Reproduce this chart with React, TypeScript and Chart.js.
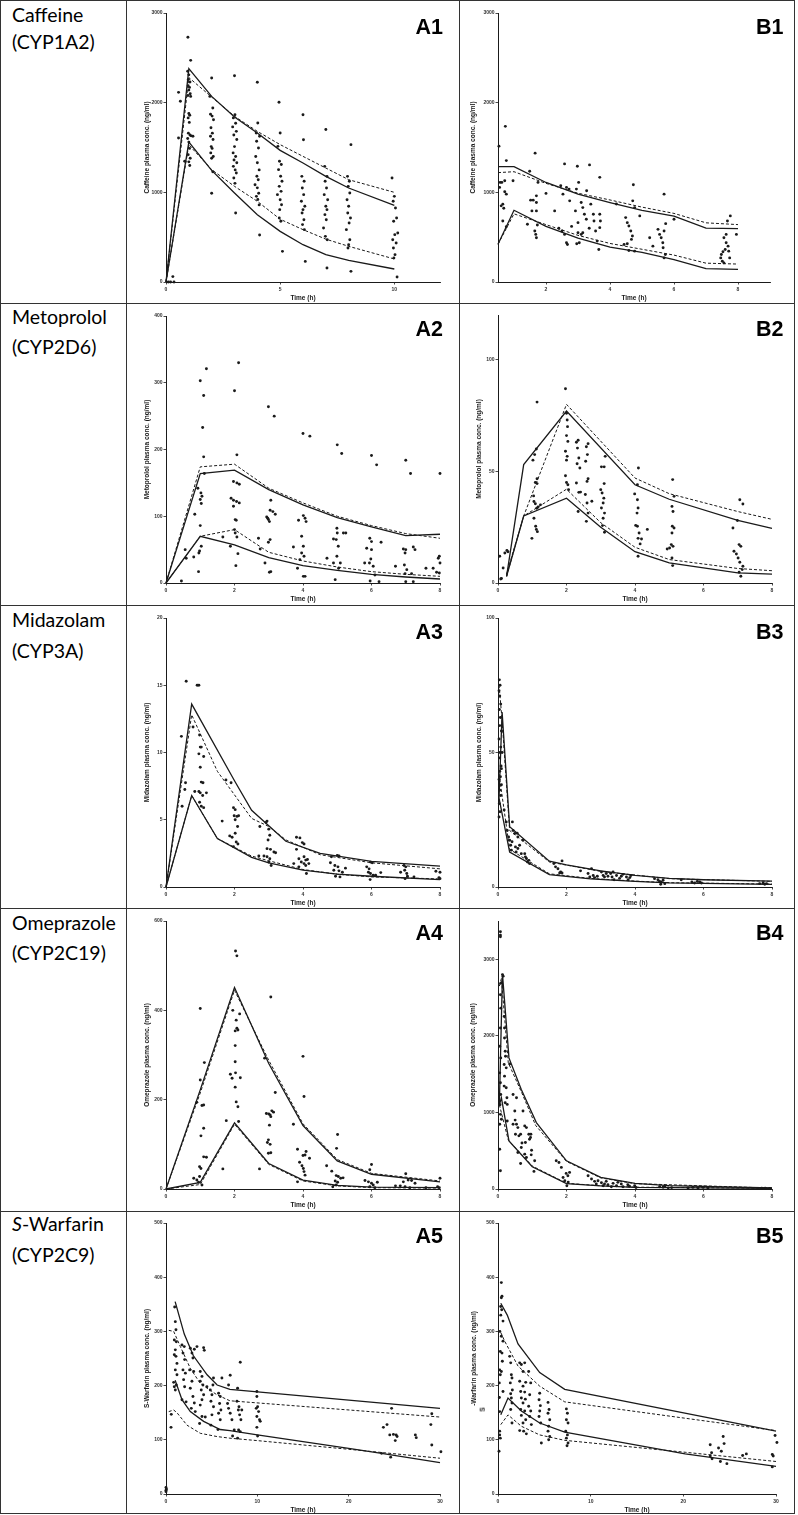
import React, { useEffect, useRef } from "react";
import { Chart, registerables } from "chart.js";
Chart.register(...registerables);

type Pt = [number, number];

// ---------------- Row / panel texts ----------------
const drugNames = ["Caffeine", "Metoprolol", "Midazolam", "Omeprazole", "S-Warfarin"];
const enzymeNames = ["(CYP1A2)", "(CYP2D6)", "(CYP3A)", "(CYP2C19)", "(CYP2C9)"];
const panelLabelsA = ["A1", "A2", "A3", "A4", "A5"];
const panelLabelsB = ["B1", "B2", "B3", "B4", "B5"];
const yTitles = [
  "Caffeine plasma conc. (ng/ml)",
  "Metoprolol plasma conc. (ng/ml)",
  "Midazolam plasma conc. (ng/ml)",
  "Omeprazole plasma conc. (ng/ml)",
  "S-Warfarin plasma conc. (ng/ml)",
];
const b5YTitle = "-Warfarin plasma conc. (ng/ml)";
const xTitle = "Time (h)";

// ---------------- A1 Caffeine ----------------
const a1XTicks = [0, 5, 10];
const a1YTicks = [0, 1000, 2000, 3000];
const a1Points: Pt[] = [
  [0.1, 0], [0.2, 0], [0.3, 60], [0.35, 0],
  [0.55, 2115], [0.63, 2015], [0.55, 1606], [0.82, 1346],
  [0.96, 2729], [1.08, 2472], [0.95, 2350], [1.0, 2310], [0.98, 2260], [1.05, 2230], [0.97, 2190], [1.03, 2170], [1.0, 2140], [1.06, 2100], [0.96, 2080], [1.08, 2070], [1.0, 1880], [1.04, 1860], [0.97, 1830], [1.02, 1780], [0.98, 1660], [1.05, 1640], [1.1, 1630], [1.18, 1625], [0.95, 1600], [1.0, 1560], [1.03, 1490], [0.97, 1420], [1.06, 1380], [1.0, 1340], [1.04, 1300],
  [2.0, 2275], [1.92, 2070], [2.05, 1940], [1.95, 1870], [2.02, 1850], [2.08, 1810], [1.97, 1720], [2.03, 1660], [1.95, 1625], [2.06, 1590], [1.98, 1510], [2.02, 1490], [1.96, 1440], [2.07, 1400], [2.0, 1380], [2.05, 1230], [2.0, 990],
  [3.0, 2300], [3.02, 1866], [2.95, 1830], [3.05, 1770], [2.92, 1730], [3.08, 1680], [2.97, 1640], [3.1, 1590], [3.0, 1510], [2.94, 1440], [3.05, 1400], [2.98, 1360], [3.1, 1330], [2.95, 1290], [3.03, 1250], [3.08, 1215], [2.97, 1160], [3.02, 1100], [3.05, 770],
  [4.0, 2227], [4.02, 1773], [3.95, 1662], [4.1, 1625], [3.97, 1570], [4.05, 1495], [3.93, 1400], [4.0, 1330], [4.08, 1250], [3.98, 1180], [4.04, 1140], [3.9, 1085], [4.0, 1050], [4.06, 990], [3.96, 955], [4.02, 920], [4.08, 860], [4.1, 524],
  [4.95, 2004], [5.0, 1662], [4.9, 1513], [4.97, 1346], [5.05, 1310], [4.93, 1253], [5.02, 1180], [5.08, 1123], [4.96, 1067], [5.04, 1011], [4.88, 974], [5.0, 918], [5.06, 862], [4.98, 807], [4.96, 714], [5.03, 677], [5.1, 342],
  [6.0, 1866], [6.02, 1587], [5.95, 1178], [6.05, 1123], [5.97, 1048], [6.03, 974], [5.93, 900], [6.08, 844], [6.0, 807], [5.96, 770], [6.04, 695], [5.98, 640], [6.06, 584], [6.1, 230],
  [7.0, 1700], [6.95, 1290], [7.05, 1178], [6.97, 1123], [7.03, 1048], [6.93, 974], [7.08, 918], [7.0, 844], [7.05, 807], [6.96, 751], [7.02, 695], [6.9, 602], [6.98, 509], [7.06, 472], [7.05, 156],
  [8.1, 1532], [7.95, 1178], [8.03, 1123], [7.98, 1067], [8.05, 993], [7.93, 918], [8.0, 844], [7.96, 770], [8.08, 714], [8.02, 658], [7.9, 584], [8.05, 472], [8.0, 416], [7.97, 379], [8.1, 119],
  [9.9, 1160], [10.0, 955], [9.95, 900], [10.05, 825], [10.1, 714], [9.97, 677], [10.15, 546], [10.02, 528], [9.93, 472], [10.08, 435], [9.96, 379], [10.03, 305], [9.98, 268], [10.12, 56],
];
const a1UpperSolid: Pt[] = [[0, 0], [1, 2380], [2, 2070], [3, 1840], [4, 1662], [5, 1468], [6, 1327], [7, 1178], [8, 1048], [10, 855]];
const a1UpperDashed: Pt[] = [[0, 0], [1, 2280], [2, 2063], [3, 1848], [4, 1680], [5, 1532], [6, 1401], [7, 1271], [8, 1141], [10, 1000]];
const a1LowerSolid: Pt[] = [[0, 0], [1, 1560], [2, 1245], [3, 993], [4, 751], [5, 565], [6, 416], [7, 305], [8, 242], [10, 145]];
const a1LowerDashed: Pt[] = [[0, 0], [1, 1530], [2, 1253], [3, 1067], [4, 900], [5, 700], [6, 584], [7, 478], [8, 398], [10, 257]];

// ---------------- B1 Caffeine ----------------
const b1XTicks = [2, 4, 6, 8];
const b1YTicks = [0, 1000, 2000, 3000];
const b1Points: Pt[] = [
  [0.53, 1515], [0.73, 1736], [0.76, 1354], [0.55, 1055], [0.57, 1111], [0.62, 1111], [0.71, 1130], [0.71, 1006], [0.76, 980], [0.65, 868], [0.6, 849], [0.68, 823], [0.65, 680], [0.76, 617], [0.97, 1130],
  [1.49, 1235], [1.66, 1437], [1.75, 1111], [1.52, 913], [1.6, 913], [1.56, 793], [1.7, 961], [1.7, 887], [1.7, 793], [1.65, 569], [1.68, 531], [1.7, 494], [1.42, 644], [1.73, 636], [2.0, 988],
  [2.58, 1317], [2.98, 1291], [3.36, 1306], [3.68, 1167], [2.27, 793], [2.46, 1074], [2.53, 980], [2.64, 1055], [2.72, 1036], [2.74, 905], [2.5, 569], [2.58, 531], [2.67, 419], [2.64, 438], [2.95, 1036], [3.02, 1111], [3.1, 887], [3.15, 830], [3.2, 756], [3.26, 700], [2.92, 793], [3.0, 662], [3.0, 550], [3.04, 438], [2.96, 427], [3.1, 531], [3.15, 550], [3.4, 868], [3.48, 756], [3.5, 681], [3.55, 569], [3.6, 456], [3.65, 363], [3.68, 756], [3.7, 681], [3.68, 606], [3.27, 1017], [2.8, 620], [2.4, 600], [3.35, 600],
  [4.73, 1085], [4.77, 830], [4.49, 718], [4.54, 662], [4.59, 625], [4.65, 569], [4.7, 513], [4.67, 475], [4.59, 352], [4.54, 427], [4.44, 419], [4.71, 905], [4.77, 344], [4.2, 870],
  [5.69, 980], [5.24, 494], [5.5, 587], [5.55, 531], [5.6, 494], [5.65, 438], [5.69, 569], [5.74, 651], [5.66, 382], [5.69, 269], [5.73, 307], [5.34, 400], [4.93, 737], [6.0, 700],
  [7.67, 681], [7.76, 737], [7.56, 494], [7.63, 438], [7.69, 400], [7.71, 344], [7.6, 363], [7.53, 337], [7.48, 307], [7.46, 269], [7.51, 232], [7.56, 213], [7.74, 269], [7.95, 531], [7.63, 531],
];
const b1UpperSolid: Pt[] = [[0.5, 1287], [1, 1287], [2, 1110], [3, 980], [4, 886], [5, 800], [6, 735], [7, 600], [8, 595]];
const b1UpperDashed: Pt[] = [[0.5, 1220], [1, 1230], [2, 1100], [3, 990], [4, 915], [5, 835], [6, 765], [7, 660], [8, 640]];
const b1LowerSolid: Pt[] = [[0.5, 420], [1, 800], [2, 620], [3, 490], [4, 390], [5, 330], [6, 250], [7, 150], [8, 140]];
const b1LowerDashed: Pt[] = [[0.5, 420], [1, 760], [2, 640], [3, 520], [4, 430], [5, 365], [6, 300], [7, 210], [8, 200]];

// ---------------- A2 Metoprolol ----------------
const a2XTicks = [0, 2, 4, 6, 8];
const a2YTicks = [0, 100, 200, 300, 400];
const a2Points: Pt[] = [
  [0.45, 3], [0.56, 50], [0.59, 37], [0.81, 39], [0.84, 103],
  [1.0, 303], [1.18, 321], [1.1, 281], [1.07, 233], [1.1, 189], [1.12, 164], [0.93, 142], [1.02, 135], [1.05, 130], [1.0, 125], [1.03, 119], [1.0, 86], [1.03, 55], [0.98, 48], [0.96, 45], [0.95, 17],
  [2.12, 330], [2.0, 288], [2.07, 192], [1.97, 152], [2.07, 150], [2.14, 148], [1.9, 127], [1.97, 124], [2.06, 122], [2.14, 120], [1.97, 115], [2.02, 95], [2.05, 94], [2.0, 80], [2.02, 75], [2.07, 69], [2.1, 44], [2.04, 26], [1.88, 55], [1.66, 69],
  [2.99, 264], [3.16, 250], [3.06, 124], [2.94, 99], [2.99, 95], [3.02, 92], [2.97, 97], [3.04, 109], [3.12, 107], [3.19, 103], [3.04, 65], [2.99, 61], [3.06, 17], [3.02, 16], [2.89, 30], [2.7, 67], [2.75, 51],
  [4.0, 224], [4.2, 220], [3.87, 94], [4.01, 101], [4.06, 97], [4.09, 92], [3.96, 70], [4.01, 55], [3.96, 45], [4.03, 40], [3.91, 35], [4.01, 10], [4.06, 10], [3.72, 54], [3.84, 22],
  [5.0, 207], [5.13, 194], [4.89, 66], [4.99, 82], [5.0, 75], [4.97, 65], [5.03, 55], [4.99, 40], [5.09, 30], [5.04, 22], [5.18, 75], [5.25, 75], [4.94, 5], [4.7, 37], [4.89, 30],
  [6.0, 191], [6.15, 177], [5.95, 67], [6.0, 62], [5.86, 52], [6.0, 50], [5.98, 36], [6.05, 25], [5.94, 30], [6.1, 12], [5.96, 3], [6.28, 61], [6.22, 2], [5.8, 30],
  [7.0, 184], [7.14, 164], [6.93, 51], [7.0, 50], [6.98, 45], [6.96, 27], [7.03, 20], [6.98, 14], [7.22, 54], [7.27, 50], [7.0, 2], [7.22, 2], [7.17, 14], [6.7, 25],
  [8.0, 164], [7.98, 40], [7.95, 37], [8.0, 30], [7.98, 15], [7.9, 16], [7.8, 22], [7.59, 22],
];
const a2UpperSolid: Pt[] = [[0, 0], [1, 164], [2, 169], [3, 140], [4, 117], [5, 98], [6, 84], [7, 71], [8, 73]];
const a2UpperDashed: Pt[] = [[0, 0], [1, 174], [2, 178], [3, 142], [4, 120], [5, 100], [6, 86], [7, 74], [8, 67]];
const a2LowerSolid: Pt[] = [[0, 0], [1, 70], [2, 57], [3, 38], [4, 26], [5, 19], [6, 13], [7, 9], [8, 6]];
const a2LowerDashed: Pt[] = [[0, 0], [1, 70], [2, 80], [3, 46], [4, 33], [5, 24], [6, 17], [7, 13], [8, 10]];

// ---------------- B2 Metoprolol ----------------
const b2XTicks = [0, 2, 4, 6, 8];
const b2YTicks = [0, 50, 100];
const b2Points: Pt[] = [
  [0.05, 12], [0.1, 2], [0.15, 6.7], [0.2, 13.4], [0.26, 14.6], [0.29, 14], [0.08, 1.8],
  [1.14, 81], [1.02, 55], [1.07, 57.5], [1.12, 60], [1.09, 45], [1.14, 44.5], [1.04, 39], [1.05, 36.5], [1.09, 35.5], [1.13, 33.5], [1.17, 34], [1.1, 25.4], [1.12, 24], [1.15, 23], [0.99, 20], [1.05, 29], [1.24, 35], [1.14, 46.7],
  [1.97, 87], [2.0, 76], [2.02, 73], [2.03, 70], [2.0, 66], [2.04, 63.4], [1.97, 59], [2.02, 56.7], [2.0, 55], [1.97, 48], [2.0, 45], [2.04, 44], [2.06, 41.8],
  [2.29, 63], [2.34, 63.9], [2.32, 60.4], [2.36, 56], [2.31, 53.4], [2.39, 51.5], [2.29, 44.8], [2.36, 40.6], [2.41, 40.7], [2.34, 32], [2.58, 61], [2.61, 57.5], [2.56, 54.5], [2.63, 46.7], [2.6, 45.5], [2.55, 39.6], [2.6, 35.8], [2.63, 31.3], [2.58, 27.6], [2.63, 62.4], [2.74, 36.6],
  [3.02, 52], [3.1, 52], [3.0, 41.8], [3.04, 40.3], [3.09, 38], [3.07, 35.8], [3.02, 33.6], [3.11, 31.3], [3.13, 56.7], [3.1, 44.5], [3.07, 29], [3.11, 22.7], [3.05, 25.7],
  [4.1, 51.5], [4.07, 44], [3.99, 39.9], [4.07, 37.3], [4.09, 33.6], [4.06, 31.3], [4.02, 25.8], [4.07, 25.4], [4.12, 22.4], [4.09, 20], [4.19, 19.7], [4.15, 17.5], [4.09, 12], [4.36, 24],
  [5.1, 46.3], [5.14, 38.8], [5.08, 34.3], [5.11, 32], [5.09, 25.4], [5.14, 24.6], [5.08, 22.4], [5.06, 17.2], [5.11, 16.4], [5.01, 15.7], [4.94, 15.2], [5.08, 11.2], [5.1, 7.8],
  [6.86, 24.6], [7.06, 37.3], [7.15, 35.4], [6.99, 28], [7.04, 17.2], [7.09, 16.4], [6.89, 14.2], [6.96, 13], [7.01, 11.2], [7.06, 9.3], [7.04, 4.8], [7.09, 3], [7.13, 6], [7.15, 7.5],
];
const b2UpperSolid: Pt[] = [[0.25, 3], [0.75, 53], [2, 77], [4, 44], [5, 37.5], [7, 28], [8, 24.5]];
const b2UpperDashed: Pt[] = [[0.25, 4], [0.75, 30], [2, 80], [4, 47], [5, 40], [7, 32], [8, 28.5]];
const b2LowerSolid: Pt[] = [[0.25, 3], [0.75, 30], [2, 38], [3, 25], [4, 14], [5, 9], [7, 4.5], [8, 4]];
const b2LowerDashed: Pt[] = [[0.25, 3], [0.75, 30], [2, 42], [3, 27], [4, 16], [5, 10.5], [7, 6.5], [8, 5.5]];

// ---------------- A3 Midazolam ----------------
const a3XTicks = [0, 2, 4, 6, 8];
const a3YTicks = [0, 5, 10, 15, 20];
const a3Points: Pt[] = [
  [0.59, 15.3], [0.45, 11.2], [0.57, 7.75], [0.55, 7.25], [0.47, 6.0], [0.79, 11.9], [0.84, 7.1],
  [0.91, 15.0], [0.96, 15.0], [0.98, 11.3], [1.0, 10.4], [1.03, 10.4], [0.96, 9.9], [1.0, 8.9], [1.1, 9.7], [1.03, 7.8], [1.08, 7.75], [0.96, 7.1], [1.0, 7.0], [1.07, 6.8], [1.18, 7.0], [0.98, 6.3], [1.03, 6.0], [1.1, 5.9],
  [1.64, 4.9], [1.75, 7.95], [1.9, 7.75], [1.86, 3.8], [1.93, 3.7], [1.97, 5.9], [2.02, 5.75], [1.99, 5.3], [2.07, 5.25], [2.12, 5.3], [2.02, 5.0], [2.09, 4.5], [2.02, 4.0], [2.05, 3.35], [2.1, 3.2], [1.97, 3.0],
  [2.74, 4.5], [2.71, 2.3], [2.86, 2.3],
  [2.95, 4.9], [2.92, 4.8], [3.0, 4.3], [3.03, 3.85], [2.98, 3.5], [2.95, 2.85], [3.05, 2.8], [2.95, 2.25], [3.03, 2.1], [3.0, 1.86], [3.07, 1.6], [3.15, 2.6], [3.2, 2.55],
  [3.81, 3.7], [3.91, 3.65], [3.98, 3.3], [4.03, 3.2], [3.81, 2.8], [3.88, 2.1], [4.03, 2.25], [3.95, 1.86], [4.03, 1.74], [4.08, 2.0], [4.13, 2.05], [4.08, 1.6], [3.73, 1.74], [4.17, 1.74], [4.1, 1.0], [3.88, 1.5],
  [4.83, 2.25], [5.0, 2.35], [5.05, 2.3], [4.8, 1.8], [4.93, 1.6], [5.02, 1.5], [4.9, 1.25], [5.05, 1.2], [5.15, 1.1], [5.24, 1.4], [4.95, 0.8], [5.08, 0.75],
  [5.86, 1.5], [5.93, 1.35], [5.97, 1.85], [6.02, 1.8], [5.91, 1.1], [5.97, 1.0], [6.05, 0.87], [5.96, 0.55], [6.12, 0.87], [6.27, 1.07],
  [6.85, 1.1], [6.95, 1.6], [7.0, 1.5], [6.97, 1.25], [7.03, 1.0], [7.05, 0.8], [6.98, 0.62], [7.24, 0.75],
  [7.88, 1.17], [8.0, 1.1], [7.97, 0.7], [8.0, 0.62],
];
const a3UpperSolid: Pt[] = [[0, 0], [0.75, 13.6], [2, 7.9], [2.5, 5.7], [3.5, 3.4], [4.5, 2.5], [6, 1.9], [8, 1.55]];
const a3UpperDashed: Pt[] = [[0, 0], [0.75, 12.8], [1.5, 8.6], [2.5, 5.1], [3, 4.5], [3.5, 3.5], [4.5, 2.4], [6, 1.8], [8, 1.35]];
const a3LowerSolid: Pt[] = [[0, 0], [0.75, 6.8], [1.5, 3.6], [2.5, 2.2], [3, 1.8], [4, 1.25], [5, 0.95], [6, 0.8], [8, 0.55]];
const a3LowerDashed: Pt[] = [[0, 0], [0.75, 6.8], [1.5, 3.6], [2.5, 2.3], [3, 1.95], [4, 1.3], [5, 0.95], [6, 0.75], [8, 0.6]];

// ---------------- B3 Midazolam ----------------
const b3XTicks = [0, 2, 4, 6, 8];
const b3YTicks = [0, 50, 100];
const b3Points: Pt[] = [
  [0.04, 77], [0.06, 75], [0.03, 73], [0.05, 71], [0.08, 68], [0.04, 66], [0.07, 63], [0.05, 60], [0.1, 58], [0.03, 55], [0.08, 52], [0.06, 50], [0.04, 48], [0.09, 45], [0.05, 43], [0.07, 41], [0.03, 40], [0.1, 38], [0.05, 36], [0.08, 34], [0.04, 31], [0.06, 28], [0.03, 26], [0.12, 50], [0.1, 44],
  [0.18, 28.6], [0.24, 24.2], [0.27, 21], [0.31, 18.6], [0.34, 17.4], [0.37, 15.5], [0.39, 13.7], [0.42, 24.2], [0.44, 21], [0.41, 16.8], [0.49, 19.9], [0.51, 14.9], [0.53, 13], [0.58, 14.3], [0.58, 18.6], [0.63, 15.5], [0.68, 12.4], [0.73, 17.4], [0.78, 12.4], [0.8, 11.2], [0.83, 10.6], [0.86, 9.3], [0.9, 9.9], [0.92, 8.7], [0.56, 20],
  [1.63, 8.7], [1.68, 7.5], [1.75, 6.8], [1.83, 5.6], [1.87, 9.7], [1.8, 5.2], [1.87, 5.2],
  [2.41, 6.0], [2.73, 6.8], [2.63, 5.0], [2.68, 3.7], [2.78, 4.3], [2.82, 3.5], [3.02, 5.6], [3.07, 4.3], [3.11, 3.7], [3.16, 5.0], [3.21, 4.0], [3.29, 5.0], [3.33, 3.7], [3.39, 2.7], [3.46, 4.3], [3.6, 4.0], [3.65, 4.7], [3.75, 3.7], [3.8, 2.7], [3.85, 3.5], [3.88, 4.3], [3.36, 5.6], [2.9, 4.0], [3.55, 3.2],
  [4.57, 3.1], [4.67, 2.7], [4.72, 2.1], [4.77, 1.74], [4.82, 2.5], [4.87, 1.24], [4.75, 1.0], [5.35, 2.7],
  [5.66, 1.86], [5.74, 1.5], [5.82, 2.1], [5.89, 1.86], [5.94, 1.5],
  [7.64, 1.24], [7.74, 1.5], [7.79, 1.0], [7.84, 1.24],
];
const b3UpperSolid: Pt[] = [[0.03, 33], [0.12, 65], [0.34, 22.4], [1.5, 9.6], [2, 8.2], [3, 6.0], [4, 4.3], [5, 3.2], [6, 2.7], [8, 2.2]];
const b3UpperDashed: Pt[] = [[0.03, 75], [0.12, 62], [0.34, 21], [1.5, 9.3], [3, 5.8], [5, 3.1], [8, 2.1]];
const b3LowerSolid: Pt[] = [[0.03, 33], [0.34, 13], [1.5, 4.6], [2.7, 3.0], [4, 2.1], [5, 1.5], [8, 1.0]];
const b3LowerDashed: Pt[] = [[0.03, 42], [0.34, 14], [1.5, 4.9], [2.7, 3.2], [4, 2.2], [5, 1.6], [8, 1.1]];

// ---------------- A4 Omeprazole ----------------
const a4XTicks = [0, 2, 4, 6, 8];
const a4YTicks = [0, 200, 400, 600];
const a4Points: Pt[] = [
  [1.0, 404], [1.0, 244], [0.9, 194], [1.05, 187], [1.1, 188], [1.02, 119], [1.1, 136], [0.98, 50], [1.02, 46], [1.1, 72], [1.18, 71], [0.81, 24], [0.9, 20], [0.95, 15], [0.98, 28], [1.12, 283], [1.05, 9],
  [2.03, 533], [2.07, 522], [1.95, 400], [2.05, 378], [2.07, 360], [2.02, 354], [2.1, 356], [2.15, 392], [2.02, 321], [2.02, 285], [1.88, 257], [1.93, 248], [2.03, 260], [2.17, 249], [2.02, 228], [2.05, 195], [2.1, 184], [2.12, 151], [1.66, 45], [1.76, 153],
  [3.06, 430], [3.19, 216], [2.88, 293], [2.93, 169], [3.0, 168], [3.04, 166], [3.09, 175], [3.14, 172], [3.06, 162], [3.02, 143], [2.99, 110], [2.96, 104], [3.04, 100], [2.99, 80], [3.06, 81], [2.73, 45],
  [4.0, 297], [4.03, 207], [3.72, 145], [3.84, 89], [3.9, 60], [4.0, 75], [4.06, 76], [4.09, 84], [4.19, 69], [3.97, 52], [4.01, 46], [4.03, 39], [4.06, 31], [3.84, 16],
  [5.01, 122], [4.98, 91], [4.69, 52], [4.84, 40], [4.97, 30], [5.03, 28], [4.94, 18], [5.01, 15], [5.1, 24], [5.17, 25], [4.97, 9], [4.87, 5],
  [6.0, 55], [5.95, 43], [5.81, 19], [5.91, 16], [6.0, 13], [6.05, 9], [6.17, 15], [5.95, 5], [6.1, 3],
  [7.0, 34], [6.93, 16], [7.07, 20], [7.17, 19], [7.27, 13], [6.84, 7], [6.98, 5], [7.12, 3], [7.59, 3], [6.7, 7],
  [8.0, 24], [7.98, 3], [7.93, 5],
];
const a4UpperSolid: Pt[] = [[0, 0], [1, 222], [2, 451], [3, 281], [4, 142], [5, 63], [6, 33], [8, 16]];
const a4UpperDashed: Pt[] = [[0, 0], [1, 215], [2, 445], [3, 288], [4, 146], [5, 66], [6, 35], [8, 18]];
const a4LowerSolid: Pt[] = [[0, 0], [1, 15], [2, 148], [3, 57], [4, 20], [5, 8], [6, 4], [8, 3]];
const a4LowerDashed: Pt[] = [[0, 0], [1, 10], [2, 145], [3, 55], [4, 18], [5, 7], [6, 3], [8, 2]];

// ---------------- B4 Omeprazole ----------------
const b4XTicks = [0, 2, 4, 6, 8];
const b4YTicks = [0, 1000, 2000, 3000];
const b4Points: Pt[] = [
  [0.07, 3359], [0.07, 3316], [0.07, 3294], [0.08, 2687], [0.07, 2536], [0.08, 2362], [0.07, 2102], [0.05, 1864], [0.08, 1712], [0.05, 1517], [0.07, 1387], [0.08, 1235], [0.07, 975], [0.05, 845], [0.05, 520], [0.07, 238], [0.1, 910], [0.06, 1100],
  [0.18, 2254], [0.19, 2102], [0.19, 1972], [0.21, 1799], [0.22, 1734], [0.18, 1625], [0.24, 1582], [0.19, 1474], [0.18, 1344], [0.24, 1322], [0.26, 1192], [0.21, 1127], [0.27, 1105], [0.34, 1634], [0.27, 889], [0.15, 2780], [0.13, 2800],
  [0.44, 1235], [0.54, 1192], [0.49, 1019], [0.44, 845], [0.54, 845], [0.58, 802], [0.51, 715], [0.61, 694], [0.73, 1019], [0.66, 715], [0.78, 824], [0.83, 802], [0.8, 607], [0.9, 715], [0.92, 650], [0.68, 542], [0.58, 477], [0.78, 455], [0.66, 334], [0.83, 412], [0.96, 715], [0.98, 507], [1.07, 368], [1.05, 230], [0.97, 446], [0.95, 672], [0.7, 600], [0.5, 900],
  [1.7, 368], [1.78, 346], [1.85, 282], [1.99, 204], [2.04, 173], [2.09, 217], [1.95, 108], [2.01, 43], [1.9, 150], [2.05, 90],
  [2.63, 173], [2.73, 130], [2.82, 100], [2.87, 65], [2.92, 108], [3.02, 82], [3.07, 43], [3.11, 65], [3.16, 100], [3.21, 56], [3.31, 30], [3.36, 74], [3.46, 43], [3.5, 87], [3.6, 65], [3.65, 30], [3.79, 56], [3.84, 35], [3.99, 43], [4.03, 20],
  [4.72, 30], [4.82, 22], [4.87, 35], [4.97, 15], [5.07, 18],
  [5.55, 13], [5.69, 22], [5.84, 13], [5.99, 22], [6.13, 13],
  [7.7, 9], [7.8, 12], [7.93, 8],
];
const b4UpperSolid: Pt[] = [[0.04, 1100], [0.13, 2809], [0.32, 1712], [0.68, 1300], [1.12, 867], [2, 368], [3, 152], [4, 74], [5, 45], [8, 13]];
const b4UpperDashed: Pt[] = [[0.04, 2650], [0.1, 2750], [0.3, 1650], [0.7, 1250], [1.1, 830], [2, 360], [3, 145], [4, 70], [8, 12]];
const b4LowerSolid: Pt[] = [[0.04, 1100], [0.1, 1190], [0.32, 628], [1.0, 290], [2, 70], [3, 40], [4, 22], [8, 8]];
const b4LowerDashed: Pt[] = [[0.04, 1100], [0.3, 640], [1, 300], [2, 75], [3, 42], [4, 24], [8, 9]];

// ---------------- A5 S-Warfarin ----------------
const a5XTicks = [0, 10, 20, 30];
const a5YTicks = [0, 100, 200, 300, 400, 500];
const a5Points: Pt[] = [
  [0, 12], [0, 7], [0, 4.3], [0.05, 9],
  [0.55, 123], [0.58, 147], [0.84, 206], [0.95, 345], [1.02, 318], [1.09, 303], [0.91, 284], [1.13, 281], [1.02, 266], [0.91, 257], [1.09, 254], [1.2, 241], [1.02, 229], [1.2, 220], [1.13, 201], [0.91, 198], [1.02, 192],
  [1.75, 275], [2.0, 272], [1.86, 260], [2.04, 248], [1.86, 229], [2.12, 223], [1.93, 211], [2.04, 198], [1.75, 174], [2.2, 170], [2.66, 269], [2.84, 260], [2.95, 251], [2.59, 229], [3.03, 226], [2.84, 208], [2.66, 195], [2.95, 180], [3.1, 168], [2.77, 158], [3.2, 152], [3.1, 267], [3.39, 272],
  [3.75, 226], [3.94, 217], [3.75, 208], [4.04, 201], [3.86, 192], [4.12, 183], [3.94, 174], [3.75, 164], [4.19, 265], [4.12, 270], [3.94, 143], [4.3, 142], [3.68, 130], [4.48, 198],
  [4.85, 192], [5.03, 183], [4.92, 171], [5.2, 161], [5.03, 146], [5.2, 214], [5.14, 201], [4.92, 127], [5.76, 186], [5.94, 180], [5.87, 167], [6.01, 155], [5.76, 149], [5.94, 137], [5.69, 119], [6.12, 214],
  [6.85, 201], [7.03, 219], [6.74, 167], [6.85, 158], [7.03, 149], [7.22, 137], [7.29, 107], [7.47, 118],
  [7.84, 195], [8.13, 243], [7.77, 171], [7.99, 161], [7.92, 155], [8.06, 146], [8.2, 137], [7.95, 118], [8.13, 115], [7.84, 103], [8.3, 155],
  [9.95, 189], [9.95, 180], [10.03, 161], [9.88, 158], [10.14, 152], [9.95, 143], [10.24, 137], [10.32, 134], [9.95, 123], [10.03, 107],
  [23.8, 123], [24.2, 128], [24.7, 158], [24.5, 109], [24.9, 110], [25.2, 109], [25.1, 98.5], [25.3, 106], [24.6, 68], [23.6, 75],
  [27.3, 109], [27.4, 104],
  [29.1, 148], [29.0, 128], [29.1, 90.5], [30.1, 78],
];
const a5UpperSolid: Pt[] = [[1, 355], [2, 295], [3, 255], [4.5, 220], [5.6, 201], [7, 193], [30, 158]];
const a5UpperDashed: Pt[] = [[0.3, 302], [0.84, 300], [1.57, 272], [2.66, 232], [3.75, 204], [5.58, 183], [7, 172], [30, 142]];
const a5LowerSolid: Pt[] = [[1, 210], [1.75, 174], [2.66, 152], [4.12, 134], [5.94, 119], [7, 117], [10, 109], [20, 84], [23.6, 75], [30, 58]];
const a5LowerDashed: Pt[] = [[0.3, 152], [0.84, 155], [1.2, 150], [2.3, 127], [3.75, 112], [5.58, 106], [7, 103], [10, 98.5], [20, 82.5], [30, 66]];

// ---------------- B5 S-Warfarin ----------------
const b5XTicks = [0, 10, 20, 30];
const b5YTicks = [0, 100, 200, 300, 400, 500];
const b5Points: Pt[] = [
  [0.36, 390], [0.43, 365], [0.36, 362], [0.29, 346], [0.54, 319], [0.36, 291], [0.54, 282], [0.25, 263], [0.43, 260], [0.47, 245], [0.18, 229], [0.36, 226], [0.25, 220], [0.14, 205], [0.54, 189], [0.18, 152], [0.18, 116], [0.18, 109], [0.25, 103], [0.11, 79], [0.3, 330], [0.4, 340], [0.2, 300], [0.15, 178],
  [1.26, 254], [1.37, 242], [1.44, 220], [1.51, 214], [1.33, 205], [1.55, 192], [1.37, 185], [1.44, 177], [1.51, 168], [1.37, 156], [1.51, 131],
  [2.34, 242], [2.52, 239], [2.7, 226], [2.88, 242], [2.34, 208], [2.7, 199], [2.99, 206], [2.45, 189], [2.88, 188], [2.52, 177], [2.95, 175], [2.7, 168], [2.45, 156], [2.88, 153], [2.52, 145], [2.99, 137], [2.7, 131], [2.77, 116], [3.06, 111], [3.31, 226], [3.53, 205], [3.42, 183], [3.31, 162], [3.53, 153], [3.42, 143], [3.6, 128], [2.34, 117],
  [4.5, 186], [4.43, 174], [4.57, 163], [4.5, 153], [4.43, 143], [4.61, 131], [4.68, 94],
  [5.4, 169], [5.51, 156], [5.4, 149], [5.58, 137], [5.47, 125], [5.4, 116], [5.58, 106], [5.47, 100],
  [7.38, 157], [7.49, 149], [7.38, 137], [7.56, 131], [7.31, 116], [7.49, 109], [7.38, 103], [7.56, 94], [7.45, 89],
  [22.9, 91], [23.05, 76], [23.1, 65], [22.9, 70], [23.8, 85], [24.3, 106], [24.4, 93], [24.1, 79], [24.0, 60], [24.7, 56],
  [26.4, 71], [26.8, 74],
  [29.6, 73], [29.7, 70], [29.9, 108], [30.1, 95], [29.6, 50],
];
const b5UpperSolid: Pt[] = [[0.3, 352], [1, 330], [2.16, 277], [4.5, 224], [7.2, 193], [30, 116]];
const b5UpperDashed: Pt[] = [[0.3, 298], [0.72, 282], [2.16, 236], [4.5, 199], [7.2, 170], [30, 117]];
const b5LowerSolid: Pt[] = [[0.3, 146], [1.08, 177], [2.52, 153], [4.5, 131], [7.2, 114], [20.2, 74], [30, 51]];
const b5LowerDashed: Pt[] = [[0.3, 128], [1.08, 146], [2.52, 125], [4.5, 109], [7.2, 99], [20.2, 77], [30, 60]];

// ---------------- Layout ----------------
type PanelSpec = {
  plot: [number, number, number, number];
  xRange: [number, number];
  yRange: [number, number];
  xTicks: number[];
  yTicks: number[];
  yTitle: string;
  yTitleGap: number;
  points: Pt[];
  lines: [Pt[], Pt[], Pt[], Pt[]];
};

const A_L = 166, A_R = 440, B_L = 498, B_R = 772;
const ROW_Y: [number, number][] = [[13, 282], [316, 583], [618, 887], [921, 1189], [1223, 1494]];

const panels: PanelSpec[] = [
  { plot: [A_L, ROW_Y[0][0], A_R, ROW_Y[0][1]], xRange: [0, 12], yRange: [0, 3000], xTicks: a1XTicks, yTicks: a1YTicks, yTitle: yTitles[0], yTitleGap: 19, points: a1Points, lines: [a1UpperSolid, a1UpperDashed, a1LowerSolid, a1LowerDashed] },
  { plot: [B_L, ROW_Y[0][0], 770, ROW_Y[0][1]], xRange: [0.5, 9], yRange: [0, 3000], xTicks: b1XTicks, yTicks: b1YTicks, yTitle: yTitles[0], yTitleGap: 25, points: b1Points, lines: [b1UpperSolid, b1UpperDashed, b1LowerSolid, b1LowerDashed] },
  { plot: [A_L, ROW_Y[1][0], A_R, ROW_Y[1][1]], xRange: [0, 8], yRange: [0, 400], xTicks: a2XTicks, yTicks: a2YTicks, yTitle: yTitles[1], yTitleGap: 19, points: a2Points, lines: [a2UpperSolid, a2UpperDashed, a2LowerSolid, a2LowerDashed] },
  { plot: [B_L, 315, B_R, ROW_Y[1][1]], xRange: [0, 8], yRange: [0, 120], xTicks: b2XTicks, yTicks: b2YTicks, yTitle: yTitles[1], yTitleGap: 18.5, points: b2Points, lines: [b2UpperSolid, b2UpperDashed, b2LowerSolid, b2LowerDashed] },
  { plot: [A_L, ROW_Y[2][0], A_R, ROW_Y[2][1]], xRange: [0, 8], yRange: [0, 20], xTicks: a3XTicks, yTicks: a3YTicks, yTitle: yTitles[2], yTitleGap: 19, points: a3Points, lines: [a3UpperSolid, a3UpperDashed, a3LowerSolid, a3LowerDashed] },
  { plot: [B_L, ROW_Y[2][0], B_R, ROW_Y[2][1]], xRange: [0, 8], yRange: [0, 100], xTicks: b3XTicks, yTicks: b3YTicks, yTitle: yTitles[2], yTitleGap: 18.5, points: b3Points, lines: [b3UpperSolid, b3UpperDashed, b3LowerSolid, b3LowerDashed] },
  { plot: [A_L, ROW_Y[3][0], A_R, ROW_Y[3][1]], xRange: [0, 8], yRange: [0, 600], xTicks: a4XTicks, yTicks: a4YTicks, yTitle: yTitles[3], yTitleGap: 19, points: a4Points, lines: [a4UpperSolid, a4UpperDashed, a4LowerSolid, a4LowerDashed] },
  { plot: [B_L, ROW_Y[3][0], B_R, ROW_Y[3][1]], xRange: [0, 8], yRange: [0, 3500], xTicks: b4XTicks, yTicks: b4YTicks, yTitle: yTitles[3], yTitleGap: 25, points: b4Points, lines: [b4UpperSolid, b4UpperDashed, b4LowerSolid, b4LowerDashed] },
  { plot: [A_L, ROW_Y[4][0], A_R, ROW_Y[4][1]], xRange: [0, 30], yRange: [0, 500], xTicks: a5XTicks, yTicks: a5YTicks, yTitle: yTitles[4], yTitleGap: 19, points: a5Points, lines: [a5UpperSolid, a5UpperDashed, a5LowerSolid, a5LowerDashed] },
  { plot: [B_L, ROW_Y[4][0], 776, ROW_Y[4][1]], xRange: [0, 30], yRange: [0, 500], xTicks: b5XTicks, yTicks: b5YTicks, yTitle: b5YTitle, yTitleGap: 23.5, points: b5Points, lines: [b5UpperSolid, b5UpperDashed, b5LowerSolid, b5LowerDashed] },
];

const Y_W = 32, X_H = 24, PAD_T = 6, PAD_R = 8;
const FONT = "'Liberation Sans', Arial, sans-serif";
const TITLE_SIZE = 6.5;
const INK = "#1a1a1a";

function Panel({ spec }: { spec: PanelSpec }) {
  const ref = useRef<HTMLCanvasElement | null>(null);
  const [l, t, r, b] = spec.plot;
  const w = r - l + Y_W + PAD_R;
  const h = b - t + PAD_T + X_H;
  useEffect(() => {
    const toXY = (arr: Pt[]) => arr.map(([x, y]) => ({ x, y }));
    const lineDs = (arr: Pt[], dashed: boolean) => ({
      data: toXY(arr),
      showLine: true,
      borderColor: INK,
      backgroundColor: INK,
      borderWidth: dashed ? 1 : 1.3,
      borderDash: dashed ? [3, 2] : [],
      pointRadius: 0,
      pointHoverRadius: 0,
      tension: 0,
      clip: false,
    });
    const tickFont = { family: FONT, size: 5, weight: "bold" };
    const titleFont = { family: FONT, size: TITLE_SIZE, weight: "bold" };
    const half = (TITLE_SIZE * 1.2) / 2;
    const axisCommon = {
      type: "linear",
      grid: { display: true, drawOnChartArea: false, drawTicks: true, tickLength: 2.5, color: INK, lineWidth: 0.8 },
      border: { display: true, color: INK, width: 1 },
    };
    const chart = new Chart(ref.current as HTMLCanvasElement, {
      type: "scatter",
      data: {
        datasets: [
          { data: toXY(spec.points), pointRadius: 1.45, pointHoverRadius: 1.45, pointBackgroundColor: INK, pointBorderWidth: 0, showLine: false, clip: false },
          lineDs(spec.lines[0], false),
          lineDs(spec.lines[1], true),
          lineDs(spec.lines[2], false),
          lineDs(spec.lines[3], true),
        ],
      },
      options: {
        animation: false,
        responsive: false,
        maintainAspectRatio: false,
        events: [],
        layout: { padding: { top: PAD_T, right: PAD_R, left: 0, bottom: 0 } },
        plugins: { legend: { display: false }, tooltip: { enabled: false } },
        scales: {
          x: {
            ...axisCommon,
            min: spec.xRange[0],
            max: spec.xRange[1],
            afterFit: (s: any) => { s.height = X_H; },
            afterBuildTicks: (s: any) => { s.ticks = spec.xTicks.map((v) => ({ value: v })); },
            ticks: { font: tickFont, color: "#333", padding: 2.5, maxRotation: 0, autoSkip: false, callback: (v: any) => String(v) },
            title: { display: true, text: xTitle, font: titleFont, color: INK, padding: { top: 0, bottom: X_H - 16.5 - half } },
          },
          y: {
            ...axisCommon,
            min: spec.yRange[0],
            max: spec.yRange[1],
            afterFit: (s: any) => { s.width = Y_W; },
            afterBuildTicks: (s: any) => { s.ticks = spec.yTicks.map((v) => ({ value: v })); },
            ticks: { font: tickFont, color: "#333", padding: 1, autoSkip: false, callback: (v: any) => String(v) },
            title: { display: true, text: spec.yTitle, font: titleFont, color: INK, padding: { top: Y_W - spec.yTitleGap - half, bottom: 0 } },
          },
        },
      },
    } as any);
    return () => chart.destroy();
  }, [spec]);
  return (
    <canvas
      ref={ref}
      width={w}
      height={h}
      style={{ position: "absolute", left: l - Y_W, top: t - PAD_T, width: w, height: h }}
    />
  );
}

const ROW_LINES = [303, 605, 908, 1211];
const NAME_BASE = [22.5, 324.5, 627, 930, 1231.5];
const ENZ_BASE = [49, 354, 658, 960, 1262.5];
const LABEL_BASE = [34, 336, 639, 940, 1243];

function DrugName({ name }: { name: string }) {
  if (name.startsWith("S-")) {
    return (<><i>S</i>{name.slice(1)}</>);
  }
  return <>{name}</>;
}

export default function App() {
  const nameStyle = (base: number): React.CSSProperties => ({
    position: "absolute",
    left: 12,
    top: base - 18.1,
    fontFamily: "Lato, 'Open Sans', sans-serif",
    fontSize: 19.5,
    lineHeight: "21px",
    whiteSpace: "nowrap",
    color: "#000",
  });
  const labelStyle = (base: number, right: number): React.CSSProperties => ({
    position: "absolute",
    left: right - 80,
    width: 80,
    textAlign: "right",
    top: base - 18.5,
    fontFamily: FONT,
    fontWeight: "bold",
    fontSize: 21.5,
    lineHeight: "22px",
    color: "#000",
  });
  return (
    <div style={{ position: "absolute", left: 0, top: 0, width: 798, height: 1515, background: "#fff", overflow: "hidden" }}>
      {/* table grid */}
      <div style={{ position: "absolute", left: 0, top: 0, width: 795, height: 1514, border: "1px solid #333", boxSizing: "border-box" }} />
      <div style={{ position: "absolute", left: 126, top: 0, width: 1, height: 1514, background: "#333" }} />
      <div style={{ position: "absolute", left: 459, top: 0, width: 1, height: 1514, background: "#333" }} />
      {ROW_LINES.map((y) => (
        <div key={y} style={{ position: "absolute", left: 0, top: y, width: 795, height: 1, background: "#333" }} />
      ))}
      {/* row labels */}
      {drugNames.map((n, i) => (
        <React.Fragment key={n}>
          <div style={nameStyle(NAME_BASE[i])}><DrugName name={n} /></div>
          <div style={nameStyle(ENZ_BASE[i])}>{enzymeNames[i]}</div>
        </React.Fragment>
      ))}
      {/* charts */}
      {panels.map((p, i) => (
        <Panel key={i} spec={p} />
      ))}
      {/* panel letters */}
      {panelLabelsA.map((lab, i) => (
        <div key={lab} style={labelStyle(LABEL_BASE[i], 443)}>{lab}</div>
      ))}
      {panelLabelsB.map((lab, i) => (
        <div key={lab} style={labelStyle(LABEL_BASE[i], 783.5)}>{lab}</div>
      ))}
      {/* detached "S" of B5 axis title */}
      <div style={{ position: "absolute", left: 480, top: 1406, fontFamily: FONT, fontWeight: "bold", fontSize: TITLE_SIZE, lineHeight: "7px", color: INK, transform: "rotate(-90deg)" }}>S</div>
    </div>
  );
}
